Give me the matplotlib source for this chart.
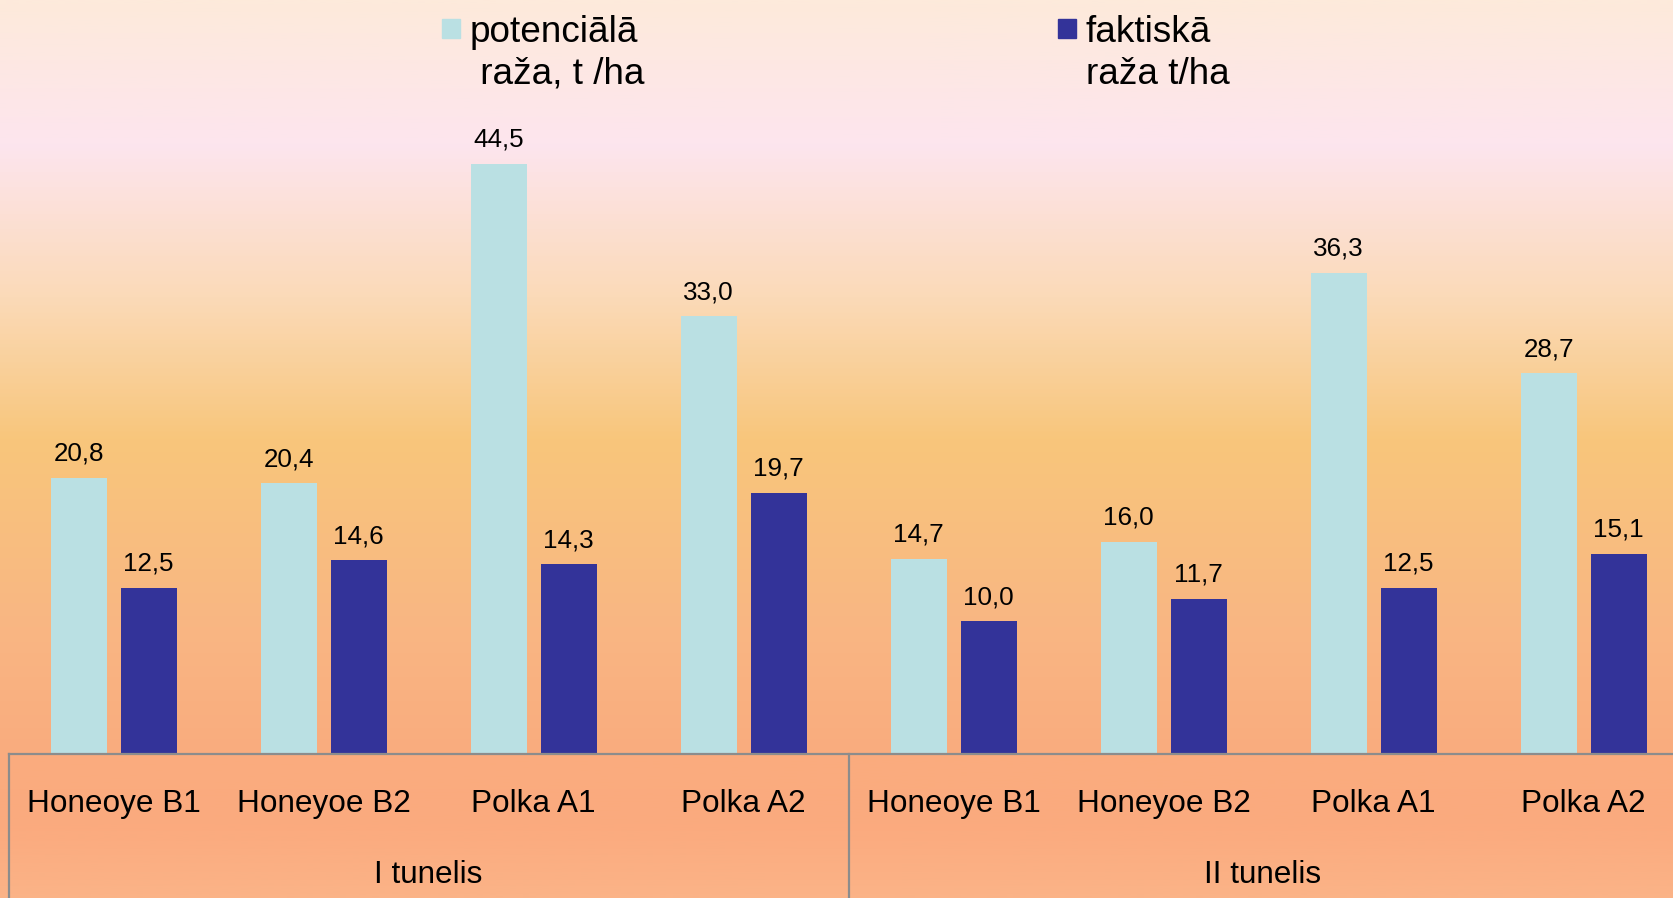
import numpy as np
import matplotlib
matplotlib.use("Agg")
import matplotlib.pyplot as plt
from matplotlib.colors import LinearSegmentedColormap
from matplotlib.patches import Rectangle

plt.rcParams['font.family'] = ['Liberation Sans', 'DejaVu Sans']

# ---- data ----
categories = ["Honeoye B1", "Honeyoe B2", "Polka A1", "Polka A2",
              "Honeoye B1", "Honeyoe B2", "Polka A1", "Polka A2"]
groups = ["I tunelis", "II tunelis"]
potential = [20.8, 20.4, 44.5, 33.0, 14.7, 16.0, 36.3, 28.7]
actual = [12.5, 14.6, 14.3, 19.7, 10.0, 11.7, 12.5, 15.1]
legend_labels = ["potenciālā\n raža, t /ha", "faktiskā\nraža t/ha"]

# ---- styles ----
C_POT = "#BAE0E3"
C_ACT = "#333399"
C_LINE = "#8C8C8C"
W, H = 1674, 898
BASE_PX = 754          # baseline y (pixels from top)
PX_PER_UNIT = 13.26

fig = plt.figure(figsize=(W / 100, H / 100), dpi=100)

# background gradient
bg = fig.add_axes([0, 0, 1, 1], zorder=0)
bg.axis("off")
stops = [(0.00, "#FDEADB"), (0.16, "#FDE5EE"), (0.33, "#FBDAB8"),
         (0.49, "#F8C67B"), (0.70, "#F9B683"), (0.84, "#FAAC7E"),
         (0.92, "#FBAA7E"), (1.00, "#FBB387")]
cmap = LinearSegmentedColormap.from_list("bg", stops)
grad = np.linspace(0, 1, 600).reshape(-1, 1)
bg.imshow(grad, aspect="auto", cmap=cmap, extent=[0, 1, 0, 1], origin="upper")
bg.set_xlim(0, 1)
bg.set_ylim(0, 1)

base_frac = (H - BASE_PX) / H
ax = fig.add_axes([0, base_frac, 1, 1 - base_frac], zorder=1)
ax.patch.set_alpha(0)

x = np.arange(len(categories))
bw = 0.267
off = 0.1667
ax.bar(x - off, potential, bw, color=C_POT, zorder=2)
ax.bar(x + off, actual, bw, color=C_ACT, zorder=2)

def fmt(v):
    return f"{v:.1f}".replace(".", ",")

for xi, v in zip(x, potential):
    ax.annotate(fmt(v), (xi - off, v), xytext=(0, 12.5), textcoords="offset points",
                ha="center", va="baseline", fontsize=18.7, color="black")
for xi, v in zip(x, actual):
    ax.annotate(fmt(v), (xi + off, v), xytext=(0, 12.5), textcoords="offset points",
                ha="center", va="baseline", fontsize=18.7, color="black")

cx0, cw = 113.6, 210.0
ax.set_xlim((0 - cx0) / cw, (W - cx0) / cw)
ax.set_ylim(0, BASE_PX / PX_PER_UNIT)

for s in ["top", "left", "right"]:
    ax.spines[s].set_visible(False)
ax.spines["bottom"].set_color(C_LINE)
ax.spines["bottom"].set_linewidth(1.6)
ax.spines["bottom"].set_bounds(-0.5, 7.5)
ax.set_yticks([])
ax.set_xticks(x, categories, fontsize=22.7)
ax.tick_params(axis="x", length=0, pad=36)
for lbl in ax.get_xticklabels():
    lbl.set_va("center")

trans = ax.get_xaxis_transform()
for xv in [-0.5, 3.5, 7.5]:
    ax.plot([xv, xv], [0, -0.25], transform=trans, clip_on=False,
            color=C_LINE, lw=1.6, zorder=3)

gy = -(875 - BASE_PX) / BASE_PX
ax.text(1.5, gy, groups[0], transform=trans, ha="center", va="center", fontsize=22.7)
ax.text(5.47, gy, groups[1], transform=trans, ha="center", va="center", fontsize=22.7)

# legend (drawn in figure pixels)
def fx(px):
    return px / W
def fy(py):
    return 1 - py / H

for (sx, tx), lab, col in zip([(442, 470), (1058, 1086)], legend_labels, [C_POT, C_ACT]):
    fig.patches.append(Rectangle((fx(sx), fy(38)), 18 / W, 19 / H,
                                 transform=fig.transFigure, color=col, zorder=5))
    # va='baseline' aligns the last line; its baseline sits at y=84 px
    fig.text(fx(tx), fy(84), lab, ha="left", va="baseline", fontsize=26.6,
             linespacing=1.25, zorder=5)

fig.savefig("out.png", dpi=100)
